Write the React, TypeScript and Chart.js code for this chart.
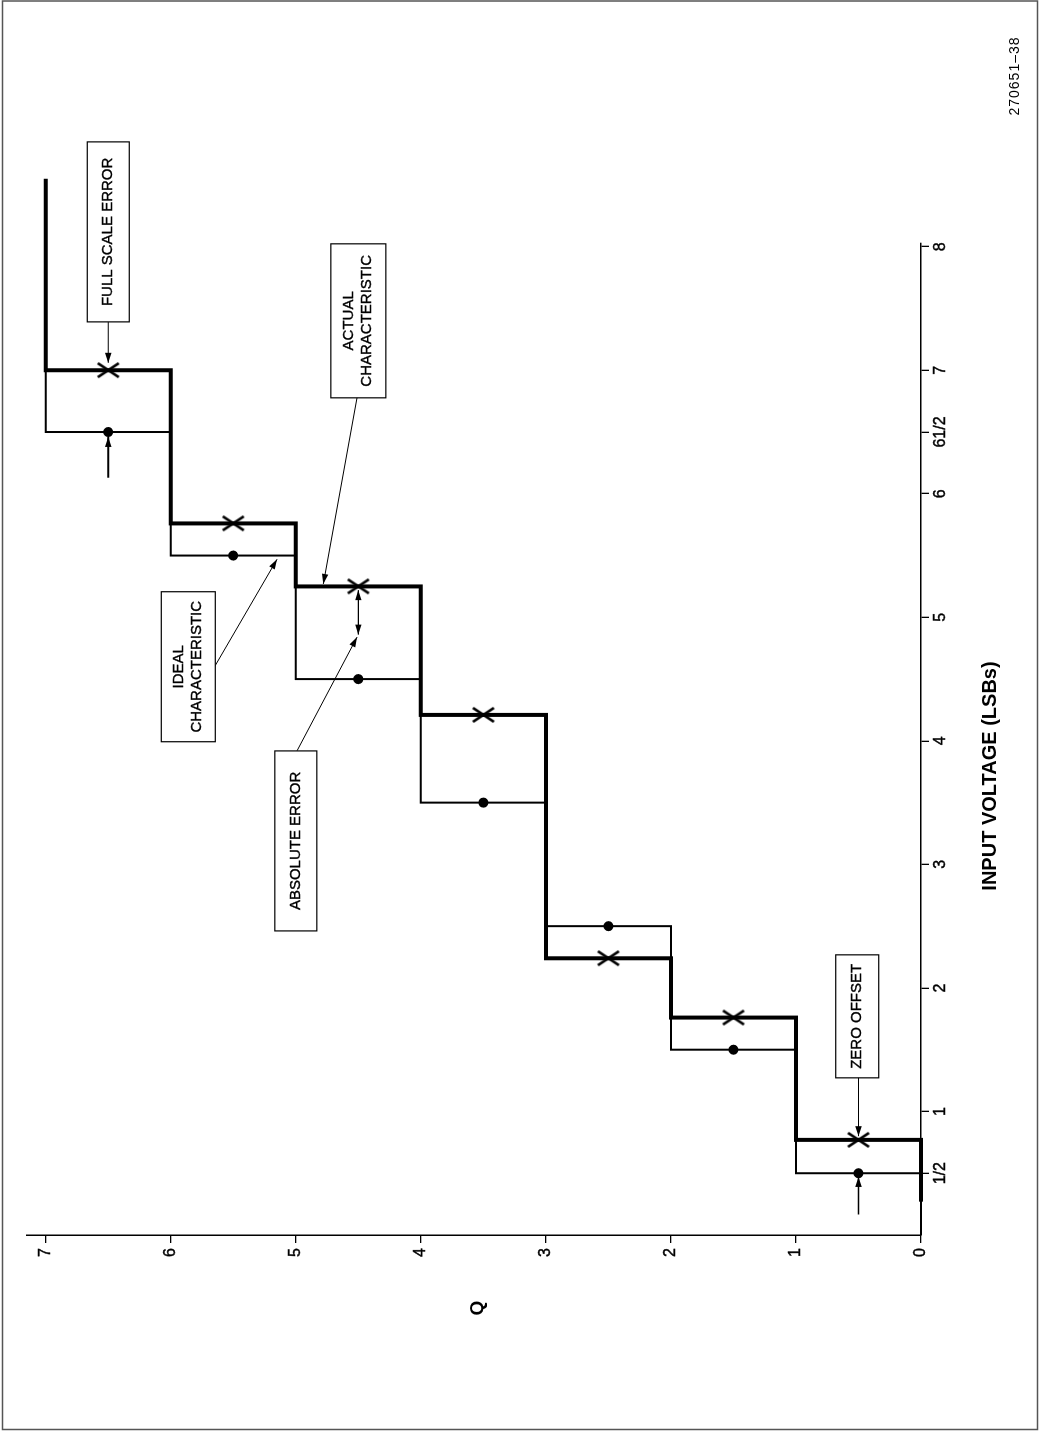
import React, { useEffect, useRef } from "react";
import { Chart, registerables } from "chart.js";

Chart.register(...registerables);

// ---------- data ----------
const vTickValues = [0.5, 1, 2, 3, 4, 5, 6, 6.5, 7, 8];
const vTickLabels = ["1/2", "1", "2", "3", "4", "5", "6", "61/2", "7", "8"];
const qTickValues = [0, 1, 2, 3, 4, 5, 6, 7];
const qTickLabels = ["0", "1", "2", "3", "4", "5", "6", "7"];

// ideal characteristic (step edges)
const idealEdgeV = [0, 0.5, 1.5, 2.5, 3.5, 4.5, 5.5, 6.5, 7.0];
const idealEdgeQ = [0, 1, 2, 3, 4, 5, 6, 7, 7];
// actual characteristic (step edges)
const actualEdgeV = [0.27, 0.77, 1.76, 2.24, 4.21, 5.25, 5.76, 7.0, 8.55];
const actualEdgeQ = [0, 1, 2, 3, 4, 5, 6, 7, 7];
// transition centre points
const idealMidV = [0.5, 1.5, 2.5, 3.5, 4.5, 5.5, 6.5];
const idealMidQ = [0.5, 1.5, 2.5, 3.5, 4.5, 5.5, 6.5];
const actualMidV = [0.77, 1.76, 2.24, 4.21, 5.25, 5.76, 7.0];
const actualMidQ = [0.5, 1.5, 2.5, 3.5, 4.5, 5.5, 6.5];

const xTitle = "INPUT VOLTAGE (LSBs)";
const yTitle = "Q";
const figId = "270651\u201338";

// annotation callouts (data-space anchors)
const boxTexts = [
  ["FULL SCALE ERROR"],
  ["ZERO OFFSET"],
  ["ACTUAL", "CHARACTERISTIC"],
  ["IDEAL", "CHARACTERISTIC"],
  ["ABSOLUTE ERROR"],
];
const boxV = [8.12, 1.77, 7.4, 4.6, 3.19];
const boxQ = [6.5, 0.51, 4.5, 5.86, 5.0];
const boxSpanV = [180, 123, 154, 150, 180];
const boxSpanQ = [42, 43, 55, 54, 42];

const arrowFromV = [7.39, 6.13, 1.28, 0.166, 6.78, 4.6, 3.92, 4.86];
const arrowFromQ = [6.5, 6.5, 0.5, 0.5, 4.51, 5.65, 4.99, 4.5];
const arrowToV = [7.06, 6.46, 0.8, 0.47, 5.27, 5.47, 4.84, 5.22];
const arrowToQ = [6.5, 6.5, 0.5, 0.5, 4.78, 5.15, 4.51, 4.5];
const arrowBoth = [false, false, false, false, false, false, false, true];
const arrowWidth = [1.2, 2, 1.2, 1.6, 1, 1, 1, 1.2];

const FONT = "'Liberation Sans', Arial, 'DejaVu Sans', sans-serif";
const CW = 1431;
const CH = 1039;

function pairs(xs: number[], ys: number[]) {
  return xs.map((x, i) => ({ x, y: ys[i] }));
}

function makeCross(): HTMLCanvasElement {
  const c = document.createElement("canvas");
  c.width = 18;
  c.height = 26;
  const g = c.getContext("2d")!;
  g.strokeStyle = "#000";
  g.lineWidth = 2.6;
  g.beginPath();
  g.moveTo(2, 2.5);
  g.lineTo(16, 23.5);
  g.moveTo(16, 2.5);
  g.lineTo(2, 23.5);
  g.stroke();
  return c;
}

function drawArrow(ctx: CanvasRenderingContext2D, x1: number, y1: number, x2: number, y2: number, w: number, both: boolean) {
  ctx.lineWidth = w;
  ctx.beginPath();
  ctx.moveTo(x1, y1);
  ctx.lineTo(x2, y2);
  ctx.stroke();
  const head = (fx: number, fy: number, tx: number, ty: number) => {
    const a = Math.atan2(ty - fy, tx - fx);
    const L = 10;
    const hw = 3.2;
    const bx = tx - L * Math.cos(a);
    const by = ty - L * Math.sin(a);
    ctx.beginPath();
    ctx.moveTo(tx, ty);
    ctx.lineTo(bx + hw * Math.sin(a), by - hw * Math.cos(a));
    ctx.lineTo(bx - hw * Math.sin(a), by + hw * Math.cos(a));
    ctx.closePath();
    ctx.fill();
  };
  head(x1, y1, x2, y2);
  if (both) head(x2, y2, x1, y1);
}

const overlayPlugin = {
  id: "overlay",
  afterDatasetsDraw(chart: any) {
    const ctx: CanvasRenderingContext2D = chart.ctx;
    const xs = chart.scales.x;
    const ys = chart.scales.y;
    ctx.save();
    ctx.strokeStyle = "#000";
    ctx.fillStyle = "#000";
    for (let i = 0; i < arrowFromV.length; i++) {
      drawArrow(
        ctx,
        xs.getPixelForValue(arrowFromV[i]),
        ys.getPixelForValue(arrowFromQ[i]),
        xs.getPixelForValue(arrowToV[i]),
        ys.getPixelForValue(arrowToQ[i]),
        arrowWidth[i],
        arrowBoth[i]
      );
    }
    for (let i = 0; i < boxTexts.length; i++) {
      const cx = xs.getPixelForValue(boxV[i]);
      const cy = ys.getPixelForValue(boxQ[i]);
      const w = boxSpanV[i];
      const h = boxSpanQ[i];
      ctx.fillStyle = "#fff";
      ctx.fillRect(cx - w / 2, cy - h / 2, w, h);
      ctx.strokeStyle = "#000";
      ctx.lineWidth = 1.2;
      ctx.strokeRect(cx - w / 2, cy - h / 2, w, h);
      ctx.fillStyle = "#000";
      ctx.font = `15px ${FONT}`;
      ctx.textAlign = "center";
      ctx.textBaseline = "middle";
      ctx.lineWidth = 0.35;
      const lines = boxTexts[i];
      const gap = 18;
      lines.forEach((t, k) => {
        const ty = cy + (k - (lines.length - 1) / 2) * gap;
        ctx.fillText(t, cx, ty);
        ctx.strokeText(t, cx, ty);
      });
    }
    ctx.restore();
  },
  afterDraw(chart: any) {
    const ctx: CanvasRenderingContext2D = chart.ctx;
    ctx.save();
    ctx.fillStyle = "#000";
    ctx.textAlign = "center";
    ctx.textBaseline = "middle";
    ctx.font = `bold 20px ${FONT}`;
    ctx.fillText(xTitle, 655, 990);
    ctx.font = `bold 19px ${FONT}`;
    ctx.fillText(yTitle, 123, 478);
    ctx.font = `14px ${FONT}`;
    (ctx as any).letterSpacing = "1px";
    ctx.fillText(figId, 1355, 1015);
    (ctx as any).letterSpacing = "0px";
    ctx.strokeStyle = "#555";
    ctx.lineWidth = 1.5;
    ctx.strokeRect(1.5, 2.5, CW - 2.5, CH - 4);
    ctx.restore();
  },
};

export default function App() {
  const ref = useRef<HTMLCanvasElement>(null);
  useEffect(() => {
    const cross = makeCross();
    const axisCommon = {
      grid: { drawOnChartArea: false, drawTicks: true, tickLength: 8, color: "#000", lineWidth: 1.3 },
      border: { display: true, color: "#000", width: 1.5 },
    };
    const chart = new Chart(ref.current!, {
      type: "line",
      data: {
        datasets: [
          {
            data: pairs(actualMidV, actualMidQ),
            showLine: false,
            pointStyle: cross as any,
            pointRadius: 10,
            borderColor: "#000",
            backgroundColor: "#000",
            clip: false as any,
          },
          {
            data: pairs(idealMidV, idealMidQ),
            showLine: false,
            pointStyle: "circle",
            pointRadius: 5,
            pointBorderWidth: 0,
            pointBackgroundColor: "#000",
            borderColor: "#000",
            clip: false as any,
          },
          {
            data: pairs(actualEdgeV, actualEdgeQ),
            stepped: "before",
            borderColor: "#000",
            borderWidth: 4,
            pointRadius: 0,
            fill: false,
            borderJoinStyle: "miter",
            borderCapStyle: "butt",
            clip: false as any,
          },
          {
            data: pairs(idealEdgeV, idealEdgeQ),
            stepped: "before",
            borderColor: "#000",
            borderWidth: 2,
            pointRadius: 0,
            fill: false,
            borderJoinStyle: "miter",
            borderCapStyle: "butt",
            clip: false as any,
          },
        ],
      },
      options: {
        responsive: false,
        maintainAspectRatio: false,
        devicePixelRatio: 1,
        animation: false,
        events: [],
        layout: { padding: { left: 0, right: 243, top: 27, bottom: 0 } },
        plugins: { legend: { display: false }, tooltip: { enabled: false } },
        scales: {
          x: {
            type: "linear",
            position: "bottom",
            min: 0,
            max: 8.03,
            afterBuildTicks: (s: any) => {
              s.ticks = vTickValues.map((v) => ({ value: v }));
            },
            afterFit: (s: any) => {
              s.height = 118;
            },
            ticks: {
              autoSkip: false,
              maxRotation: 0,
              minRotation: 0,
              padding: 2,
              color: "#000",
              textStrokeColor: "#000",
              textStrokeWidth: 0.4,
              font: { family: FONT, size: 16 },
              callback: (_v: any, i: number) => vTickLabels[i],
            },
            ...axisCommon,
          },
          y: {
            type: "linear",
            position: "left",
            min: 0,
            max: 7.15,
            afterBuildTicks: (s: any) => {
              s.ticks = qTickValues.map((v) => ({ value: v }));
            },
            afterFit: (s: any) => {
              s.width = 196;
            },
            ticks: {
              padding: 5,
              color: "#000",
              textStrokeColor: "#000",
              textStrokeWidth: 0.4,
              font: { family: FONT, size: 16 },
              callback: (_v: any, i: number) => qTickLabels[i],
            },
            ...axisCommon,
          },
        },
      },
      plugins: [overlayPlugin],
    } as any);
    return () => chart.destroy();
  }, []);
  return (
    <div
      style={{
        position: "absolute",
        left: 0,
        top: 0,
        width: 1039,
        height: 1431,
        overflow: "hidden",
        background: "#fff",
      }}
    >
      <canvas
        ref={ref}
        width={CW}
        height={CH}
        style={{
          position: "absolute",
          left: 0,
          top: 0,
          width: CW,
          height: CH,
          transformOrigin: "0 0",
          transform: `translate(0px, ${CW}px) rotate(-90deg)`,
        }}
      />
    </div>
  );
}
